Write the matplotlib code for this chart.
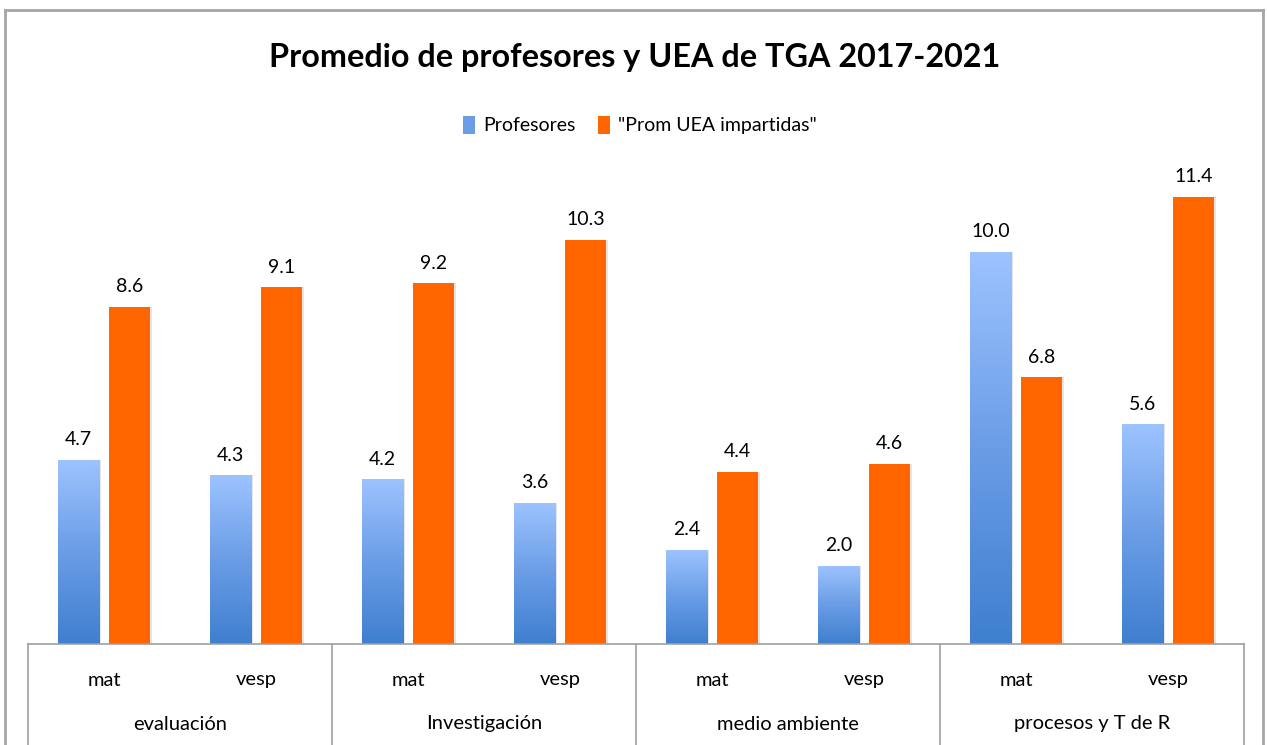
import numpy as np
import matplotlib.pyplot as plt
from matplotlib.colors import LinearSegmentedColormap
from matplotlib.patches import Patch
from matplotlib.lines import Line2D

groups = ['evaluación', 'Investigación', 'medio ambiente', 'procesos y T de R']
turnos = ['mat', 'vesp']
profesores = [4.7, 4.3, 4.2, 3.6, 2.4, 2.0, 10.0, 5.6]
prom_uea = [8.6, 9.1, 9.2, 10.3, 4.4, 4.6, 6.8, 11.4]
series_names = ['Profesores', '"Prom UEA impartidas"']
title = 'Promedio de profesores y UEA de TGA 2017-2021'

FONT = ['Lato', 'DejaVu Sans']
plt.rcParams['font.family'] = FONT

W, H = 1267, 745
fig = plt.figure(figsize=(W / 100, H / 100), dpi=100)

# plot area in pixels
left, right, base, top = 28, 1244, 644, 644 - 12 * 39.2
ax = fig.add_axes([left / W, 1 - base / H, (right - left) / W, (base - top) / H])

blue_cmap = LinearSegmentedColormap.from_list('bl', ['#3f7fcf', '#6a9de6', '#9dc3ff'])
orange = '#ff6600'

n = len(profesores)
x = np.arange(n) + 0.5
bw = 0.27
off = 0.168
grad = np.linspace(0, 1, 256).reshape(-1, 1)

for i in range(n):
    # faint shadow
    for xc, v in ((x[i] - off, profesores[i]), (x[i] + off, prom_uea[i])):
        ax.bar(xc + 0.012, v, bw, color='#000000', alpha=0.10, zorder=1)
    b = ax.bar(x[i] - off, profesores[i], bw, color='none', zorder=2)[0]
    im = ax.imshow(grad, cmap=blue_cmap, origin='lower', aspect='auto',
                   extent=[x[i] - off - bw / 2, x[i] - off + bw / 2, 0, profesores[i]],
                   zorder=2)
    im.set_clip_path(b)
    ax.bar(x[i] + off, prom_uea[i], bw, color=orange, zorder=2)
    ax.text(x[i] - off, profesores[i] + 0.3, f'{profesores[i]:.1f}', ha='center',
            va='bottom', fontsize=14, color='#000000')
    ax.text(x[i] + off, prom_uea[i] + 0.3, f'{prom_uea[i]:.1f}', ha='center',
            va='bottom', fontsize=14, color='#000000')

ax.set_xlim(0, n)
ax.set_ylim(0, 12)
for s in ['top', 'left', 'right']:
    ax.spines[s].set_visible(False)
ax.spines['bottom'].set_color('#a0a0a0')
ax.spines['bottom'].set_linewidth(1.2)
ax.set_yticks([])
ax.set_xticks([])

# multi-level category axis
trans = ax.get_xaxis_transform()
for k in range(len(groups) + 1):
    ax.add_line(Line2D([2 * k, 2 * k], [0, -0.5], transform=trans, color='#a0a0a0',
                       lw=1.2, clip_on=False))
ypix = (base - top)
for i in range(n):
    ax.text(x[i], -36 / ypix, turnos[i % 2], transform=trans, ha='center', va='center',
            fontsize=14.5)
for g, name in enumerate(groups):
    ax.text(2 * g + 1, -80 / ypix, name, transform=trans, ha='center', va='center',
            fontsize=14.5)

# outer chart border
border = '#a6a6a6'
fig.add_artist(Line2D([5 / W, 1263 / W], [1 - 10 / H, 1 - 10 / H], color=border, lw=2))
fig.add_artist(Line2D([5 / W, 5 / W], [0, 1 - 10 / H], color=border, lw=2))
fig.add_artist(Line2D([1263 / W, 1263 / W], [0, 1 - 10 / H], color=border, lw=2))

fig.text(635 / W, 1 - 58 / H, title, ha='center', va='center', fontsize=23.3,
         fontweight='bold')

handles = [Patch(facecolor='#6a9de6', edgecolor='none'),
           Patch(facecolor=orange, edgecolor='none')]
fig.legend(handles, series_names, loc='center', bbox_to_anchor=(640 / W, 1 - 125 / H),
           ncol=2, frameon=False, fontsize=14, handlelength=0.6, handleheight=1.1,
           handletextpad=0.4, columnspacing=1.2)

fig.savefig('out.png', dpi=100)
